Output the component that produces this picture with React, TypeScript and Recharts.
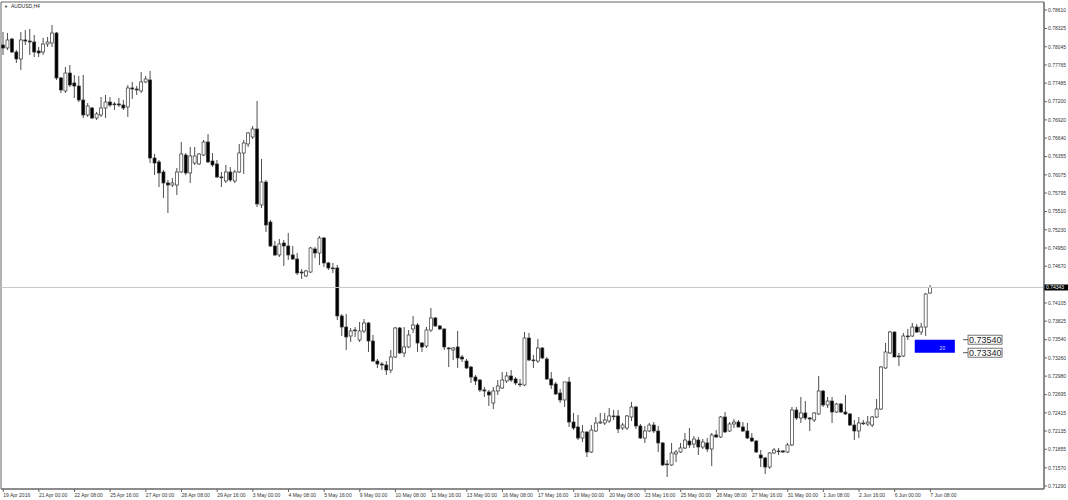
import React from "react";
import {
  Bar,
  ComposedChart,
  ReferenceArea,
  ReferenceDot,
  ReferenceLine,
  XAxis,
  YAxis,
} from "recharts";

// AUDUSD H4, 19 Apr 2016 16:00 .. 7 Jun 2016 08:00 (one entry per 4h bar)
const opens = [
  0.78072, 0.78026, 0.78164, 0.77964, 0.77857, 0.78149, 0.78133, 0.78118, 0.7798, 0.77964,
  0.78087, 0.78103, 0.78256, 0.77565, 0.77365, 0.77641, 0.77488, 0.77441, 0.77226, 0.76996,
  0.77103, 0.76949, 0.76996, 0.77103, 0.77195, 0.77165, 0.77165, 0.77149, 0.77119, 0.77411,
  0.77395, 0.77365, 0.77503, 0.77534, 0.76334, 0.76273, 0.76119, 0.7595, 0.75919, 0.75919,
  0.76119, 0.7638, 0.76104, 0.76257, 0.76242, 0.7638, 0.7658, 0.76288, 0.76242, 0.76042,
  0.75981, 0.76119, 0.75981, 0.76119, 0.76411, 0.7655, 0.76657, 0.7678, 0.75612, 0.75965,
  0.7535, 0.74981, 0.74843, 0.75027, 0.74981, 0.74843, 0.74781, 0.74581, 0.7452, 0.74581,
  0.74935, 0.74873, 0.75104, 0.7472, 0.74643, 0.74643, 0.73905, 0.73735, 0.73597, 0.73689,
  0.73535, 0.73674, 0.73797, 0.7352, 0.73212, 0.73166, 0.73151, 0.73074, 0.73274, 0.7372,
  0.73336, 0.73428, 0.73705, 0.73766, 0.73489, 0.73443, 0.73689, 0.73874, 0.73751, 0.73705,
  0.73412, 0.73382, 0.73428, 0.73274, 0.73212, 0.7312, 0.72966, 0.7292, 0.72767, 0.72736,
  0.72567, 0.72751, 0.72797, 0.72905, 0.72982, 0.72936, 0.72859, 0.72843, 0.73566, 0.73228,
  0.73212, 0.73412, 0.73243, 0.72936, 0.72859, 0.7272, 0.72613, 0.7289, 0.72274, 0.72198,
  0.72028, 0.72121, 0.71813, 0.72136, 0.72259, 0.72259, 0.7229, 0.72367, 0.72367, 0.72182,
  0.72182, 0.72351, 0.72505, 0.72213, 0.72028, 0.72136, 0.72228, 0.72136, 0.71952, 0.71629,
  0.71613, 0.71782, 0.71813, 0.71875, 0.71982, 0.71936, 0.71997, 0.7189, 0.71952, 0.71859,
  0.72075, 0.72044, 0.72351, 0.72136, 0.72244, 0.72274, 0.72198, 0.72136, 0.72028, 0.71982,
  0.71767, 0.71721, 0.71582, 0.71798, 0.71829, 0.71829, 0.71813, 0.71921, 0.72459, 0.72336,
  0.72413, 0.72336, 0.72305, 0.72398, 0.72751, 0.72536, 0.72597, 0.72428, 0.72551, 0.72428,
  0.72398, 0.72228, 0.72136, 0.72259, 0.72244, 0.72228, 0.72351, 0.72474, 0.73105, 0.73336,
  0.73658, 0.73289, 0.73289, 0.73597, 0.73597, 0.73735, 0.73658, 0.73735, 0.74258,
];
const highs = [
  0.78272, 0.78256, 0.7818, 0.77995, 0.78272, 0.78302, 0.78318, 0.78226, 0.78041, 0.7818,
  0.78195, 0.78379, 0.78272, 0.7758, 0.77734, 0.77764, 0.77611, 0.77595, 0.77611, 0.7718,
  0.77119, 0.77042, 0.77272, 0.77303, 0.77272, 0.77195, 0.77257, 0.77226, 0.77457, 0.77503,
  0.77441, 0.77657, 0.77595, 0.77672, 0.76396, 0.76304, 0.7615, 0.75996, 0.76027, 0.7618,
  0.7658, 0.76411, 0.76503, 0.76503, 0.76411, 0.76611, 0.76703, 0.76411, 0.76304, 0.76119,
  0.76227, 0.76196, 0.7615, 0.7655, 0.76611, 0.76734, 0.76826, 0.77211, 0.76319, 0.75996,
  0.75381, 0.75058, 0.75089, 0.75073, 0.75181, 0.74981, 0.74873, 0.74627, 0.74612, 0.74966,
  0.74966, 0.75135, 0.75119, 0.74735, 0.7472, 0.74689, 0.73935, 0.73935, 0.7372, 0.73735,
  0.73812, 0.73858, 0.73812, 0.73612, 0.73243, 0.73197, 0.73212, 0.73382, 0.73735, 0.73735,
  0.73735, 0.73689, 0.73905, 0.73797, 0.73505, 0.73735, 0.74028, 0.73889, 0.73766, 0.7371,
  0.73428, 0.73428, 0.73674, 0.73305, 0.73243, 0.73136, 0.72997, 0.72936, 0.72813, 0.72767,
  0.72813, 0.7292, 0.73043, 0.73043, 0.73074, 0.72966, 0.72936, 0.73658, 0.73643, 0.73305,
  0.73551, 0.73428, 0.73274, 0.73043, 0.7289, 0.72782, 0.7289, 0.72966, 0.72413, 0.72382,
  0.72228, 0.7213, 0.72228, 0.72351, 0.72413, 0.72413, 0.7249, 0.72459, 0.72459, 0.72259,
  0.72382, 0.72582, 0.72521, 0.72244, 0.72213, 0.72259, 0.72274, 0.72213, 0.71967, 0.7169,
  0.71952, 0.71844, 0.71952, 0.72105, 0.72182, 0.72059, 0.72044, 0.72013, 0.72028, 0.72105,
  0.72151, 0.72367, 0.72428, 0.72274, 0.72321, 0.72305, 0.72274, 0.72259, 0.72105, 0.71997,
  0.71844, 0.71736, 0.71813, 0.71875, 0.71875, 0.71844, 0.71952, 0.72505, 0.72505, 0.72659,
  0.72597, 0.72351, 0.72428, 0.72982, 0.72767, 0.72659, 0.72659, 0.72567, 0.72567, 0.7269,
  0.72413, 0.72305, 0.72351, 0.72305, 0.72367, 0.72367, 0.72628, 0.73136, 0.73489, 0.73674,
  0.73665, 0.73336, 0.73643, 0.73705, 0.73797, 0.73782, 0.73797, 0.74258, 0.74381,
];
const lows = [
  0.77918, 0.77995, 0.77949, 0.77795, 0.77688, 0.78072, 0.77918, 0.77887, 0.77887, 0.77918,
  0.78041, 0.78041, 0.77534, 0.77334, 0.77334, 0.77426, 0.77257, 0.77195, 0.76949, 0.76965,
  0.76934, 0.76919, 0.76965, 0.76949, 0.77119, 0.77072, 0.77119, 0.77072, 0.76965, 0.77242,
  0.77303, 0.77334, 0.77488, 0.76257, 0.76073, 0.75888, 0.75719, 0.75488, 0.75888, 0.75765,
  0.76104, 0.76073, 0.7595, 0.76227, 0.76227, 0.76365, 0.76257, 0.76196, 0.76027, 0.75888,
  0.7595, 0.75965, 0.7595, 0.76104, 0.76088, 0.76503, 0.76626, 0.75581, 0.75565, 0.75196,
  0.74966, 0.74827, 0.74812, 0.74673, 0.74766, 0.74766, 0.74535, 0.74474, 0.74504, 0.74566,
  0.74796, 0.74689, 0.74658, 0.74612, 0.74566, 0.73843, 0.73597, 0.73382, 0.73505, 0.73582,
  0.73505, 0.73643, 0.73351, 0.73197, 0.73105, 0.73074, 0.72997, 0.73028, 0.73259, 0.7332,
  0.73274, 0.73412, 0.73643, 0.73351, 0.73351, 0.73412, 0.73658, 0.73735, 0.73689, 0.73382,
  0.7312, 0.73228, 0.73105, 0.73197, 0.73089, 0.72874, 0.72843, 0.72736, 0.72659, 0.72521,
  0.72474, 0.7269, 0.72782, 0.72874, 0.7289, 0.72843, 0.72813, 0.72828, 0.73212, 0.73105,
  0.73182, 0.73243, 0.7292, 0.72782, 0.7269, 0.72567, 0.72505, 0.72198, 0.72151, 0.71997,
  0.71967, 0.71736, 0.71798, 0.72121, 0.72244, 0.72228, 0.72259, 0.72305, 0.72105, 0.72151,
  0.72151, 0.7229, 0.72167, 0.72013, 0.71952, 0.72121, 0.72105, 0.71813, 0.71598, 0.71429,
  0.71598, 0.71659, 0.71798, 0.71859, 0.71875, 0.71875, 0.71767, 0.71859, 0.71813, 0.71598,
  0.72028, 0.72028, 0.72105, 0.72121, 0.72182, 0.7219, 0.72121, 0.72013, 0.71967, 0.71798,
  0.71582, 0.71475, 0.71552, 0.71782, 0.71767, 0.71798, 0.71798, 0.71905, 0.72305, 0.72259,
  0.72305, 0.72136, 0.72274, 0.72382, 0.72505, 0.7249, 0.72259, 0.72413, 0.72413, 0.72382,
  0.72213, 0.71997, 0.72028, 0.72228, 0.72213, 0.72198, 0.72336, 0.72459, 0.73089, 0.7332,
  0.73274, 0.73136, 0.73274, 0.73535, 0.73582, 0.73643, 0.73612, 0.73597, 0.74243,
];
const closes = [
  0.78026, 0.78149, 0.77964, 0.77857, 0.78149, 0.78133, 0.78118, 0.77964, 0.77949, 0.78087,
  0.78118, 0.78256, 0.77565, 0.7738, 0.77641, 0.77457, 0.77441, 0.77226, 0.76996, 0.77134,
  0.76949, 0.77011, 0.77103, 0.77195, 0.77149, 0.7716, 0.77149, 0.77103, 0.77411, 0.77395,
  0.7738, 0.77503, 0.77549, 0.76334, 0.76257, 0.76104, 0.7595, 0.75919, 0.7595, 0.76119,
  0.76396, 0.76104, 0.76365, 0.76365, 0.76396, 0.7658, 0.76273, 0.76227, 0.76042, 0.76038,
  0.76119, 0.75996, 0.76119, 0.76411, 0.76565, 0.76719, 0.7678, 0.75627, 0.75965, 0.75304,
  0.74981, 0.74843, 0.75012, 0.74981, 0.74843, 0.74781, 0.74566, 0.74566, 0.74597, 0.7495,
  0.74873, 0.75104, 0.7472, 0.74643, 0.74638, 0.73905, 0.73735, 0.73582, 0.73674, 0.73685,
  0.73674, 0.73797, 0.7352, 0.73212, 0.73166, 0.73151, 0.73074, 0.73274, 0.7372, 0.73336,
  0.73428, 0.73612, 0.73766, 0.73489, 0.73428, 0.73689, 0.73874, 0.73751, 0.73705, 0.73428,
  0.73408, 0.73412, 0.73259, 0.73243, 0.73105, 0.72966, 0.72905, 0.72767, 0.72751, 0.7269,
  0.72751, 0.72828, 0.7292, 0.72982, 0.7292, 0.72874, 0.72855, 0.73566, 0.73228, 0.73224,
  0.73412, 0.73259, 0.72936, 0.72843, 0.72705, 0.72613, 0.7289, 0.72274, 0.72182, 0.72028,
  0.72121, 0.71813, 0.72151, 0.72259, 0.72274, 0.72305, 0.72367, 0.72362, 0.72167, 0.72228,
  0.72367, 0.72505, 0.72213, 0.72028, 0.72136, 0.72228, 0.72136, 0.71952, 0.71613, 0.71624,
  0.71798, 0.71813, 0.71875, 0.71997, 0.71921, 0.72013, 0.7189, 0.71967, 0.71859, 0.72075,
  0.72044, 0.72351, 0.72121, 0.72244, 0.72274, 0.72198, 0.72136, 0.72028, 0.71982, 0.71813,
  0.71721, 0.71582, 0.71798, 0.71844, 0.71825, 0.71813, 0.71921, 0.72459, 0.72336, 0.72413,
  0.72336, 0.72321, 0.72413, 0.72751, 0.72536, 0.72597, 0.72428, 0.72551, 0.72428, 0.72398,
  0.72228, 0.72136, 0.72259, 0.72255, 0.72274, 0.72351, 0.72474, 0.7312, 0.73351, 0.73658,
  0.73274, 0.73285, 0.73597, 0.73593, 0.73735, 0.73658, 0.73735, 0.74243, 0.74343,
];

// labels every 8 bars, first one on bar 0
const xLabels = [
  "19 Apr 2016", "21 Apr 00:00", "22 Apr 08:00", "25 Apr 16:00", "27 Apr 00:00",
  "28 Apr 08:00", "29 Apr 16:00", "3 May 00:00", "4 May 08:00", "5 May 16:00",
  "9 May 00:00", "10 May 08:00", "11 May 16:00", "13 May 00:00", "16 May 08:00",
  "17 May 16:00", "19 May 00:00", "20 May 08:00", "23 May 16:00", "25 May 00:00",
  "26 May 08:00", "27 May 16:00", "31 May 00:00", "1 Jun 08:00", "2 Jun 16:00",
  "6 Jun 00:00", "7 Jun 08:00",
];
const yTicks = [
  0.7861, 0.78325, 0.78045, 0.77765, 0.77485, 0.772, 0.7692, 0.7664, 0.76355, 0.76075,
  0.75795, 0.7551, 0.7523, 0.7495, 0.7467, 0.74385, 0.74105, 0.73825, 0.7354, 0.7326,
  0.7298, 0.72695, 0.72415, 0.72135, 0.71855, 0.7157, 0.7129,
];
const hiddenTick = 0.74385; // sits under the last-price tag
const lastPrice = 0.74343;
const zoneTop = 0.7354;
const zoneBottom = 0.7334;
const zoneLabel = "20";

const TOTAL_SLOTS = 234; // bars + empty space on the right (chart shift)
const FONT = "'Liberation Sans', Arial, 'DejaVu Sans', sans-serif";

const data = Array.from({ length: TOTAL_SLOTS }, (_, i) =>
  i < opens.length
    ? { i, open: opens[i], high: highs[i], low: lows[i], close: closes[i], range: [lows[i], highs[i]] }
    : { i, range: null }
);

const Candle = (props: any) => {
  const { x, y, width, height, payload } = props;
  if (!payload || payload.open == null) return null;
  const { open, close, high, low } = payload;
  const top = Math.min(y, y + height);
  const h = Math.abs(height);
  const k = h / (high - low || 1);
  const py = (v: number) => top + (high - v) * k;
  const cx = x + width / 2;
  const bull = close >= open;
  const bTop = py(Math.max(open, close));
  const bBot = py(Math.min(open, close));
  return (
    <g>
      <line x1={cx} x2={cx} y1={top} y2={top + h} stroke="#3a3a3a" strokeWidth={0.9} />
      <rect
        x={cx - 1.5}
        y={bTop}
        width={3}
        height={Math.max(bBot - bTop, 0.8)}
        fill={bull ? "#ffffff" : "#000000"}
        stroke="#333"
        strokeWidth={0.7}
      />
    </g>
  );
};

const XTick = (props: any) => {
  const { x, y, payload } = props;
  return (
    <text x={x} y={y + 4} fontSize={5} fontFamily={FONT} fill="#333" textAnchor="start">
      {xLabels[payload.value / 8]}
    </text>
  );
};

const PriceTag = (props: any) => {
  const vb = props.viewBox || {};
  const x = vb.x + vb.width;
  const y = vb.y;
  return (
    <g>
      <rect x={x} y={y - 3} width={24} height={6} fill="#000" />
      <text x={x + 2} y={y + 1.8} fontSize={5} fontFamily={FONT} fill="#fff">
        {lastPrice.toFixed(5)}
      </text>
    </g>
  );
};

const ZoneText = (props: any) => {
  const vb = props.viewBox || {};
  return (
    <text x={vb.x + vb.width * 0.62} y={vb.y + vb.height - 2.5} fontSize={5} fontFamily={FONT} fill="#d8ddff">
      {zoneLabel}
    </text>
  );
};

const LevelBox = (value: number) => (props: any) => {
  const { cx, cy } = props;
  return (
    <g>
      <line x1={cx + 1.5} x2={cx + 6.5} y1={cy} y2={cy} stroke="#555" strokeWidth={1} />
      <rect x={cx + 6.5} y={cy - 4.5} width={34} height={9} fill="#fff" stroke="#555" strokeWidth={0.8} />
      <text x={cx + 7.5} y={cy + 3.2} fontSize={9} fontFamily={FONT} fill="#222">
        {value.toFixed(5)}
      </text>
    </g>
  );
};

export default function App() {
  const xTicks = xLabels.map((_, k) => k * 8);
  return (
    <div style={{ position: "absolute", left: 0, top: 0, width: 1068, height: 500, background: "#fff" }}>
      <div
        style={{
          position: "absolute",
          left: 4,
          top: 3,
          fontFamily: FONT,
          fontSize: 5,
          color: "#222",
          lineHeight: "6px",
          whiteSpace: "nowrap",
          zIndex: 2,
        }}
      >
        <span style={{ fontSize: 4, marginRight: 3 }}>▼</span>AUDUSD,H4
      </div>
      <ComposedChart
        width={1068}
        height={500}
        data={data}
        margin={{ top: 2, right: 0, bottom: 0, left: 1 }}
        barCategoryGap={0}
      >
        <XAxis
          dataKey="i"
          type="category"
          ticks={xTicks}
          interval={0}
          height={11}
          tickSize={3}
          tickMargin={1}
          axisLine={{ stroke: "#666" }}
          tickLine={{ stroke: "#666" }}
          tick={<XTick />}
        />
        <YAxis
          orientation="right"
          type="number"
          domain={[0.71244, 0.78733]}
          allowDataOverflow
          ticks={yTicks}
          interval={0}
          width={24}
          tickSize={3}
          tickMargin={1}
          axisLine={{ stroke: "#666" }}
          tickLine={{ stroke: "#666" }}
          tick={{ fontSize: 5, fontFamily: FONT, fill: "#333" }}
          tickFormatter={(v: number) => (v === hiddenTick ? "" : v.toFixed(5))}
        />
        <ReferenceArea x1={0} x2={TOTAL_SLOTS - 1} y1={0.71244} y2={0.78733} fill="none" stroke="#666" strokeWidth={1} />
        <ReferenceLine y={lastPrice} stroke="#c8c8c8" strokeWidth={1} label={<PriceTag />} />
        <ReferenceArea
          x1={205}
          x2={213}
          y1={zoneBottom}
          y2={zoneTop}
          fill="#0000ff"
          fillOpacity={1}
          stroke="none"
          label={<ZoneText />}
        />
        <Bar dataKey="range" shape={Candle} isAnimationActive={false} />
        <ReferenceDot x={215} y={zoneTop} r={0} shape={LevelBox(zoneTop)} />
        <ReferenceDot x={215} y={zoneBottom} r={0} shape={LevelBox(zoneBottom)} />
      </ComposedChart>
    </div>
  );
}
